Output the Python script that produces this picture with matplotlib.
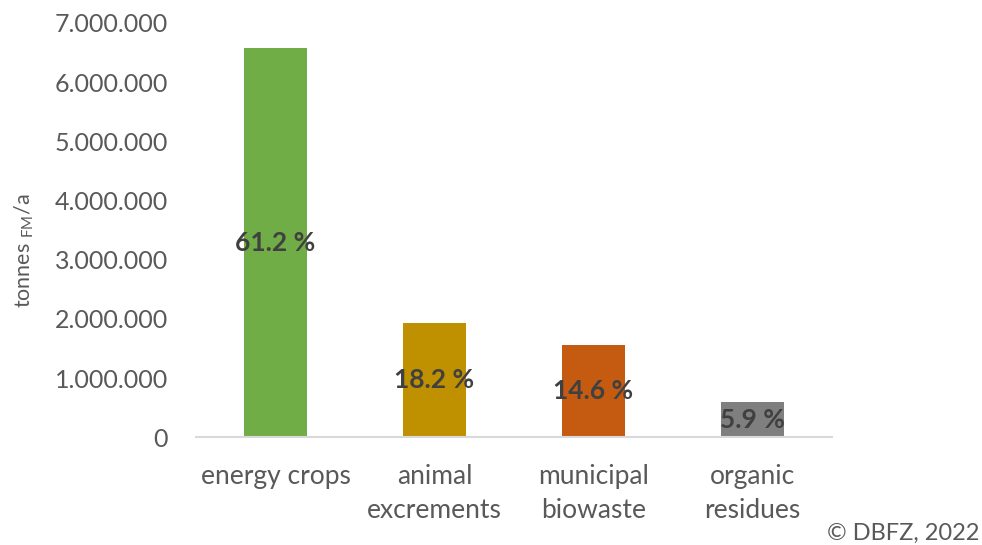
import matplotlib
matplotlib.use("Agg")
import matplotlib.pyplot as plt
from matplotlib.ticker import FuncFormatter

categories = ["energy crops", "animal\nexcrements", "municipal\nbiowaste", "organic\nresidues"]
values = [6580000, 1930000, 1560000, 600000]
pct_labels = ["61.2 %", "18.2 %", "14.6 %", "5.9 %"]
colors = ["#70AD47", "#BF9000", "#C55A11", "#7F7F7F"]
yticks = [0, 1000000, 2000000, 3000000, 4000000, 5000000, 6000000, 7000000]

plt.rcParams['font.family'] = ['Lato', 'DejaVu Sans']

fig = plt.figure(figsize=(9.82, 5.45), dpi=100)
ax = fig.add_axes([196/982, 107.7/545, 636/982, 414.3/545])

x = list(range(len(categories)))
bars = ax.bar(x, values, width=0.39, color=colors, zorder=2)
ax.set_xlim(-0.5, len(categories) - 0.5)
ax.set_ylim(0, 7000000)
ax.set_yticks(yticks)
ax.yaxis.set_major_formatter(FuncFormatter(lambda v, p: f"{int(v):,}".replace(",", ".")))
ax.set_xticks(x)
ax.set_xticklabels(categories, linespacing=1.47, fontsize=19)

for s in ["top", "right", "left"]:
    ax.spines[s].set_visible(False)
ax.spines["bottom"].set_color("#D9D9D9")
ax.spines["bottom"].set_linewidth(1.5)
ax.tick_params(axis="both", length=0, colors="#595959")
ax.tick_params(axis="y", pad=20, labelsize=18)
ax.tick_params(axis="x", pad=19)

for b, lab in zip(bars, pct_labels):
    ax.text(b.get_x() + b.get_width()/2, b.get_height()/2, lab, ha="center", va="center",
            fontsize=19, fontweight="bold", color="#404040", zorder=3)

fig.text(24/982, 1 - 251/545, r"tonnes $_{\mathregular{FM}}$/a", rotation=90, ha="center", va="center",
         fontsize=15.5, color="#595959")
fig.text(979/982, 1 - 533/545, "© DBFZ, 2022", ha="right", va="center", fontsize=17, color="#595959")

fig.savefig("out.png", dpi=100)
